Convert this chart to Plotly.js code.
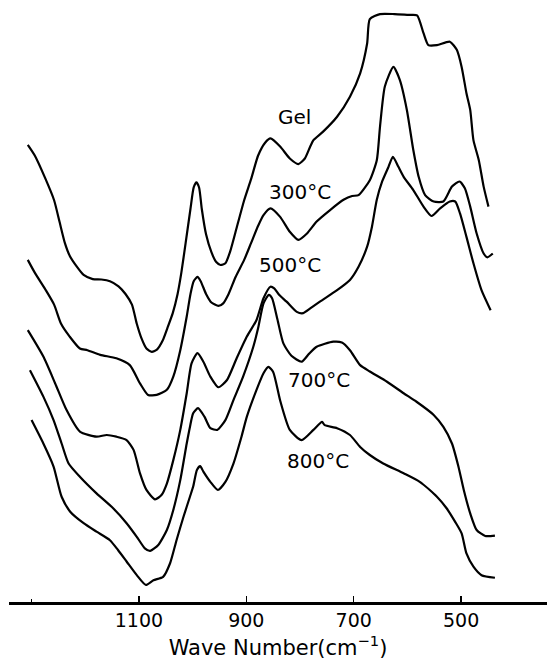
<!DOCTYPE html>
<html>
<head>
<meta charset="utf-8">
<script src="https://cdn.plot.ly/plotly-3.0.1.min.js"></script>
<style>html,body{margin:0;padding:0;background:#fff;}#chart{width:547px;height:668px;}</style>
</head>
<body>
<div id="chart"></div>
<script>
// Wave numbers (cm-1) and relative transmittance (arbitrary units)
const wnGel = [1307,1294,1274,1258,1248,1238,1229,1216,1203,1186,1170,1154,1138,1125,1113,1104,1095,1086,1076,1066,1056,1047,1037,1028,1021,1013,1004,998,993,988,983,975,965,956,948,939,930,917,904,891,878,865,855,837,819,803,791,781,775,757,731,707,688,675,670,651,624,598,582,570,561,545,521,508,499,490,483,477,467,458,449];
const tGel = [107.3,104.8,99.3,94.3,89.3,84.3,81.3,78.8,76.8,75.8,75.7,75.3,74.1,72.3,69.8,65.3,61.8,59.5,58.7,59.3,61.3,64.3,67.8,72.3,77.3,84.3,92.3,97.3,98.5,97.3,92.3,86.3,82.1,79.8,79.1,79.5,82.3,88.3,94.3,99.3,104.8,107.8,108.8,106.9,104.1,102.8,104.1,106.9,108.4,110.4,113.9,118.6,124.1,131.1,136.8,138.0,138.0,137.8,137.7,133.5,130.7,130.7,131.5,129.6,125.6,119.4,115.5,108.4,103.7,97.5,92.8];

const wn300 = [1307,1294,1274,1258,1245,1229,1210,1196,1172,1142,1117,1098,1083,1067,1048,1036,1023,1011,1004,998,991,985,975,965,952,943,933,920,904,891,878,868,855,837,819,803,787,769,744,719,703,691,670,657,651,642,626,614,601,589,579,567,551,533,517,503,493,483,471,458,451,441];
const t300 = [80.3,77.3,73.3,69.8,65.3,62.3,59.5,59.1,58.0,57.2,55.6,51.3,48.6,48.6,49.8,52.9,59.1,67.0,72.3,75.3,76.3,75.3,72.3,70.3,69.5,70.1,72.3,76.3,80.3,84.3,88.3,90.8,92.4,90.4,86.9,85.0,86.5,89.3,92.0,94.4,95.3,95.5,99.0,103.7,111.6,121.0,125.6,122.5,115.5,106.1,99.8,95.5,94.0,94.0,97.5,98.7,97.1,92.8,86.5,81.8,80.9,81.8];

const wn500 = [1307,1278,1256,1235,1210,1179,1160,1142,1123,1110,1098,1086,1070,1058,1048,1036,1023,1011,1002,991,980,967,952,936,918,899,881,868,855,848,839,825,806,794,781,763,731,707,691,675,666,657,647,635,627,617,607,589,570,555,539,521,511,502,490,477,462,445];
const t500 = [63.8,57.6,51.3,45.1,40.0,38.8,39.2,38.8,38.0,35.7,30.2,26.3,24.1,25.1,27.8,33.3,40.4,49.0,56.0,58.4,56.4,52.9,50.4,52.1,57.2,62.3,66.2,71.3,74.0,73.6,72.1,70.5,68.1,67.8,68.9,70.5,73.2,75.6,78.7,83.4,88.1,94.4,98.7,102.2,104.5,102.2,99.8,96.7,92.8,90.6,92.4,94.0,94.0,91.2,85.7,79.5,73.2,68.5];

const wn700 = [1303,1278,1259,1244,1231,1210,1179,1148,1123,1104,1089,1079,1064,1048,1036,1023,1011,1005,999,990,978,967,954,939,924,906,887,878,868,858,852,842,831,816,797,783,769,738,722,707,688,670,638,607,583,551,533,517,505,495,483,471,455,437];
const t700 = [54.4,48.2,42.7,37.2,32.5,29.4,25.5,22.0,18.5,15.3,12.6,12.0,13.4,16.9,21.6,28.6,37.2,41.1,44.3,45.5,43.5,40.8,40.4,42.7,47.4,52.9,59.9,64.3,70.1,72.1,71.3,66.3,60.7,57.8,56.4,58.3,59.9,61.1,60.9,59.1,55.6,54.1,51.7,49.0,47.0,43.9,41.1,37.2,31.8,26.3,20.8,16.9,15.5,15.6];

const wn800 = [1300,1278,1259,1244,1228,1203,1179,1154,1139,1123,1104,1087,1073,1055,1042,1030,1017,1005,999,992,986,980,967,953,939,924,909,899,881,868,859,850,837,819,797,775,759,754,731,707,688,670,645,607,577,545,527,511,499,490,477,462,437];
const t800 = [42.7,37.2,31.8,24.7,21.2,18.5,16.5,14.5,12.2,9.5,6.3,4.0,5.1,5.9,9.1,14.5,20.0,24.7,27.1,31.0,31.9,30.6,28.2,26.3,28.2,32.5,38.8,43.5,49.8,53.7,55.2,54.0,47.3,40.4,38.0,40.4,42.3,41.5,40.8,39.2,36.4,34.5,32.5,30.2,28.2,24.7,22.0,18.8,16.1,11.4,8.3,6.3,5.7];

const seriesNames = ['Gel','300°C','500°C','700°C','800°C'];
const labelText = ['Gel','300°C','500°C','700°C','800°C'];
const labelWn = [811, 800, 818, 764, 766];
const labelT = [113.8, 96.2, 79.1, 52.1, 33.1];

const tickVals = [1100, 900, 700, 500];
const tickText = ['1100', '900', '700', '500'];
const minorTickVals = [1300];

const xs = [wnGel, wn300, wn500, wn700, wn800];
const ys = [tGel, t300, t500, t700, t800];

const traces = xs.map((x, i) => ({
  x: x, y: ys[i], name: seriesNames[i], type: 'scatter', mode: 'lines',
  line: {color: '#000', width: 2.2, shape: 'spline', smoothing: 0.6},
  hoverinfo: 'skip'
}));

const fontFam = '"DejaVu Sans", sans-serif';

const annotations = labelText.map((t, i) => ({
  x: labelWn[i], y: labelT[i], xref: 'x', yref: 'y', text: t,
  showarrow: false, xanchor: 'center', yanchor: 'middle',
  font: {family: fontFam, size: 20, color: '#000'}
}));

const layout = {
  width: 547, height: 668,
  margin: {l: 9, r: 0, t: 0, b: 66},
  paper_bgcolor: '#fff', plot_bgcolor: '#fff',
  showlegend: false,
  xaxis: {
    range: [1342, 340], showgrid: false, zeroline: false,
    showline: true, linecolor: '#000', linewidth: 2.5,
    ticks: 'inside', ticklen: 6, tickwidth: 1.5, tickcolor: '#000',
    tickmode: 'array', tickvals: tickVals, ticktext: tickText,
    minor: {tickmode: 'array', tickvals: minorTickVals, ticks: 'inside', ticklen: 3, tickwidth: 1.5, tickcolor: '#000', showgrid: false},
    tickfont: {family: fontFam, size: 19, color: '#000'},
    title: {text: 'Wave Number(cm<sup>−1</sup>)', font: {family: fontFam, size: 21, color: '#000'}, standoff: 10}
  },
  yaxis: {range: [0, 141.3], visible: false, fixedrange: true},
  annotations: annotations
};

Plotly.newPlot('chart', traces, layout, {displayModeBar: false, staticPlot: true});
</script>
</body>
</html>
